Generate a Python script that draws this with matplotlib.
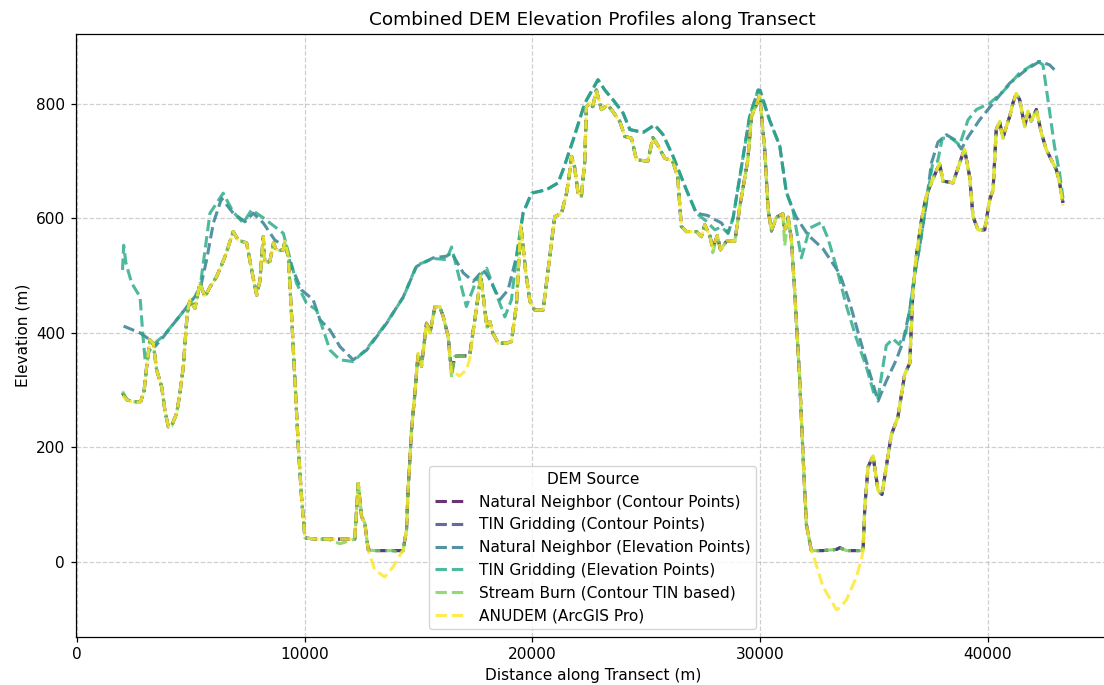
import matplotlib
matplotlib.use("Agg")
import matplotlib.pyplot as plt
import numpy as np

# ---- Data ----
contour_dist = [2000, 2200, 2500, 2800, 2950, 3060, 3200, 3350, 3500, 3720, 3860, 4010, 4160, 4380, 4520,
                4670, 4840, 4960, 5180, 5400, 5620, 5840, 6130, 6500, 6860, 7080, 7450, 7670, 7890, 8030,
                8180, 8250, 8470, 8630, 8770, 9060, 9130, 9280, 9420, 9570, 9720, 9860, 10010, 10500, 11000,
                11550, 12200, 12350, 12500, 12640, 12790, 13080, 13520, 13890, 14180, 14320, 14470, 14540, 14690, 14840,
                14980, 15130, 15350, 15500, 15720, 15930, 16080, 16300, 16450, 16590, 16800, 17100, 17250, 17470, 17620,
                17730, 17870, 18000, 18130, 18260, 18500, 18860, 19080, 19300, 19490, 19710, 19890, 20100, 20470, 20690,
                20980, 21280, 21500, 21600, 21720, 21850, 22000, 22150, 22300, 22370, 22520, 22650, 22810, 23030, 23310,
                23560, 23840, 24060, 24350, 24570, 25070, 25290, 25500, 25810, 26160, 26380, 26540, 26760, 27200, 27420,
                27570, 27790, 27920, 28120, 28260, 28520, 28890, 29110, 29460, 29620, 29800, 29980, 30200, 30350, 30500,
                30710, 31000, 31080, 31230, 31370, 31520, 31740, 31880, 32030, 32250, 32310, 32760, 33350, 33500, 33790,
                34230, 34450, 34520, 34600, 34740, 34960, 35180, 35350, 35540, 35760, 36050, 36350, 36570, 36710, 36860,
                37080, 37300, 37520, 37880, 38030, 38470, 38910, 38980, 39200, 39350, 39570, 39860, 40080, 40230, 40370,
                40520, 40660, 40810, 40960, 41100, 41250, 41400, 41620, 41760, 41910, 42130, 42350, 42570, 42790, 43010,
                43150, 43300]

nn_contour_elev = [295, 283, 280, 280, 300, 341, 388, 382, 335, 306, 265, 236, 238, 260, 295,
                   341, 434, 458, 443, 487, 463, 480, 498, 533, 577, 562, 557, 510, 466, 490,
                   568, 522, 525, 557, 543, 545, 560, 533, 434, 318, 201, 114, 42, 40, 40,
                   40, 40, 137, 79, 68, 21, 20, 20, 20, 20, 20, 56, 126, 230, 295,
                   364, 342, 417, 400, 446, 446, 429, 394, 330, 359, 360, 360, 362, 423, 465,
                   500, 455, 410, 420, 400, 382, 382, 385, 450, 589, 505, 455, 440, 440, 510,
                   603, 609, 644, 670, 708, 690, 645, 638, 700, 795, 801, 795, 824, 790, 798,
                   785, 769, 743, 740, 702, 700, 741, 728, 705, 700, 673, 586, 577, 577, 568,
                   589, 570, 548, 570, 545, 560, 560, 621, 702, 778, 795, 814, 721, 615, 578,
                   602, 608, 580, 602, 565, 472, 316, 190, 66, 20, 20, 20, 22, 25, 20,
                   20, 20, 20, 98, 166, 185, 125, 118, 166, 222, 253, 328, 347, 472, 534,
                   596, 640, 662, 696, 665, 662, 714, 720, 673, 603, 580, 580, 632, 650, 755,
                   769, 740, 760, 778, 801, 818, 807, 760, 787, 770, 790, 749, 720, 702, 685,
                   662, 627]

tin_contour_elev = [295, 283, 280, 280, 300, 341, 388, 382, 335, 306, 265, 236, 238, 260, 295,
                    341, 434, 458, 443, 487, 463, 480, 498, 533, 577, 562, 557, 510, 466, 490,
                    568, 522, 525, 557, 543, 545, 560, 533, 434, 318, 201, 114, 42, 40, 40,
                    40, 40, 137, 79, 68, 21, 20, 20, 20, 20, 20, 56, 126, 230, 295,
                    364, 342, 417, 400, 446, 446, 429, 394, 330, 359, 360, 360, 362, 423, 465,
                    500, 455, 410, 420, 400, 382, 382, 385, 450, 589, 505, 455, 440, 440, 510,
                    603, 609, 644, 670, 708, 690, 645, 638, 700, 795, 801, 795, 824, 790, 798,
                    785, 769, 743, 740, 702, 700, 741, 728, 705, 700, 673, 586, 577, 577, 568,
                    589, 570, 548, 570, 545, 560, 560, 621, 702, 778, 795, 814, 721, 615, 578,
                    602, 608, 580, 602, 565, 472, 316, 190, 66, 20, 20, 20, 22, 25, 20,
                    20, 20, 20, 98, 166, 185, 125, 118, 166, 222, 253, 328, 347, 472, 534,
                    596, 640, 662, 696, 665, 662, 714, 720, 673, 603, 580, 580, 632, 650, 755,
                    769, 740, 760, 778, 801, 818, 807, 760, 787, 770, 790, 749, 720, 702, 685,
                    662, 627]

stream_burn_elev = [298, 283, 280, 280, 300, 341, 388, 382, 335, 306, 265, 236, 238, 260, 295,
                    341, 434, 458, 443, 487, 463, 480, 498, 533, 577, 562, 557, 510, 466, 490,
                    568, 522, 525, 557, 543, 545, 560, 533, 434, 318, 201, 114, 42, 40, 40,
                    32, 40, 140, 79, 68, 21, 20, 20, 20, 15, 20, 56, 126, 230, 295,
                    364, 342, 417, 400, 446, 446, 429, 394, 322, 359, 360, 360, 362, 423, 465,
                    500, 455, 410, 420, 400, 382, 382, 385, 450, 589, 505, 455, 440, 440, 510,
                    603, 609, 644, 670, 708, 690, 645, 638, 700, 795, 801, 795, 824, 790, 798,
                    785, 769, 743, 740, 702, 700, 741, 728, 705, 700, 673, 586, 577, 577, 568,
                    589, 570, 540, 570, 545, 560, 560, 621, 702, 778, 795, 814, 721, 615, 578,
                    602, 608, 552, 602, 565, 472, 316, 190, 66, 20, 20, 20, 22, 25, 20,
                    20, 20, 20, 98, 166, 185, 125, 118, 166, 222, 253, 328, 347, 472, 534,
                    596, 640, 662, 696, 665, 662, 714, 720, 673, 603, 580, 580, 632, 650, 755,
                    769, 740, 760, 778, 801, 818, 807, 760, 787, 770, 790, 749, 720, 702, 685,
                    662, 627]

anudem_elev = [290, 283, 278, 280, 300, 341, 388, 382, 335, 306, 265, 236, 238, 260, 295,
               341, 434, 458, 443, 487, 463, 480, 498, 533, 577, 562, 557, 510, 466, 490,
               568, 522, 525, 557, 543, 545, 560, 533, 434, 318, 201, 114, 42, 40, 40,
               40, 40, 137, 79, 68, 20, -14, -26, -8, 12, 20, 56, 126, 230, 295,
               364, 342, 417, 400, 446, 446, 429, 394, 330, 330, 325, 335, 355, 423, 465,
               500, 455, 410, 420, 400, 382, 382, 385, 450, 589, 505, 455, 440, 440, 510,
               603, 609, 644, 670, 708, 690, 645, 638, 700, 795, 801, 795, 824, 790, 798,
               785, 769, 743, 740, 702, 700, 741, 728, 705, 700, 673, 586, 577, 577, 568,
               589, 570, 548, 570, 545, 560, 560, 621, 702, 778, 795, 814, 721, 615, 578,
               602, 608, 580, 602, 565, 472, 316, 190, 66, 20, 15, -43, -83, -80, -66,
               -26, 5, 20, 98, 166, 185, 125, 118, 166, 222, 253, 328, 347, 472, 534,
               596, 640, 662, 696, 665, 662, 714, 720, 673, 603, 580, 580, 632, 650, 755,
               769, 740, 760, 778, 801, 818, 807, 760, 787, 770, 790, 749, 720, 702, 685,
               662, 622]

nn_elev_dist = [2050, 2100, 2770, 3200, 3420, 3790, 4380, 4960, 5400, 5690, 5990, 6350, 6860, 7380, 7740,
                8180, 8690, 9130, 9420, 9860, 10370, 10670, 11110, 11550, 12130, 12720, 13600, 14330, 14910, 15640,
                16230, 16450, 16960, 17400, 17840, 18060, 18570, 18930, 19300, 19590, 19960, 20620, 21130, 21350, 21790,
                22300, 22880, 23180, 23540, 23980, 24280, 24860, 25370, 25740, 26180, 26760, 27200, 27700, 28010, 28300,
                28590, 28810, 29180, 29540, 29910, 30000, 30420, 30860, 31150, 31440, 31590, 32100, 32760, 33500, 33940,
                34380, 34740, 35180, 35540, 35980, 36270, 36570, 36790, 37010, 37300, 37520, 37810, 38180, 38550, 38840,
                39130, 39640, 40230, 40960, 41700, 42280, 42710, 43010, 43100]
nn_elev_elev = [412, 411, 400, 388, 376, 393, 423, 452, 475, 527, 592, 635, 609, 594, 609,
                592, 562, 551, 516, 475, 458, 423, 405, 376, 353, 370, 417, 463, 516, 531,
                534, 540, 505, 490, 510, 498, 458, 475, 533, 609, 644, 650, 662, 685, 737,
                801, 842, 824, 807, 784, 755, 750, 763, 746, 708, 650, 609, 605, 598, 592,
                574, 600, 690, 778, 824, 824, 771, 727, 646, 615, 602, 571, 547, 503, 452,
                390, 340, 281, 316, 353, 384, 440, 503, 552, 627, 696, 733, 746, 737, 721,
                742, 772, 801, 836, 860, 874, 868, 856, 855]

tin_elev_dist = [2000, 2050, 2150, 2400, 2770, 2900, 3000, 3200, 3500, 3800, 4380, 4960, 5400, 5840, 6420,
                 6860, 7300, 7670, 8180, 9060, 9640, 10080, 10520, 11110, 11550, 12130, 12720, 13600, 14330, 14910,
                 15640, 16230, 16450, 17100, 17550, 17990, 18790, 19080, 19300, 19590, 19960, 20620, 21130, 21350, 21790,
                 22300, 22880, 23180, 23540, 23980, 24280, 24860, 25370, 25740, 26180, 26760, 27200, 27640, 28010, 28300,
                 28590, 28810, 29180, 29540, 29910, 30000, 30420, 30860, 31150, 31440, 31810, 32180, 32690, 32980, 33350,
                 33790, 34230, 34670, 35030, 35180, 35540, 35830, 36100, 36400, 36570, 36790, 37010, 37300, 37580, 37800,
                 38000, 38400, 38760, 39130, 39500, 40080, 40660, 41400, 42200, 42420, 42640, 42930, 43150, 43300]
tin_elev_elev = [510, 553, 522, 487, 463, 393, 350, 370, 385, 395, 423, 452, 478, 609, 644,
                 611, 592, 615, 601, 574, 487, 452, 440, 370, 353, 350, 372, 418, 462, 518,
                 530, 528, 550, 446, 493, 513, 428, 458, 533, 609, 644, 650, 662, 685, 737,
                 801, 842, 824, 807, 784, 755, 750, 763, 746, 708, 650, 609, 595, 580, 585,
                 574, 600, 690, 778, 824, 820, 771, 727, 646, 615, 531, 583, 593, 565, 515,
                 447, 390, 340, 290, 287, 378, 390, 380, 400, 440, 503, 552, 627, 697, 700,
                 740, 740, 728, 772, 790, 801, 821, 854, 874, 868, 807, 725, 680, 635]

labels = ["Natural Neighbor (Contour Points)", "TIN Gridding (Contour Points)",
          "Natural Neighbor (Elevation Points)", "TIN Gridding (Elevation Points)",
          "Stream Burn (Contour TIN based)", "ANUDEM (ArcGIS Pro)"]

series = [(contour_dist, nn_contour_elev), (contour_dist, tin_contour_elev),
          (nn_elev_dist, nn_elev_elev), (tin_elev_dist, tin_elev_elev),
          (contour_dist, stream_burn_elev), (contour_dist, anudem_elev)]

colors = plt.cm.viridis(np.linspace(0, 1, len(labels)))

S = 1.11  # overall scale of text and lines
plt.rcParams['font.size'] = 10 * S

fig = plt.figure(figsize=(11.04, 6.85), dpi=100)
ax = fig.add_axes([75.5 / 1104, 48 / 685, 1034.5 / 1104, (637 - 34) / 685])

for (d, e), lab, c in zip(series, labels, colors):
    ax.plot(d, e, linestyle='--', linewidth=2 * S, color=c, alpha=0.8, label=lab)

ax.set_title("Combined DEM Elevation Profiles along Transect", fontsize=12 * S, pad=6 * S)
ax.set_xlabel("Distance along Transect (m)", fontsize=10 * S)
ax.set_ylabel("Elevation (m)", fontsize=10 * S)
ax.tick_params(labelsize=10 * S, width=0.8 * S, length=3.5 * S)
for sp in ax.spines.values():
    sp.set_linewidth(0.8 * S)
ax.grid(True, linestyle='--', alpha=0.6, linewidth=0.8 * S)
ax.legend(title="DEM Source", loc='lower center', fontsize=10 * S, title_fontsize=10 * S)

fig.savefig("out.png", dpi=100)
